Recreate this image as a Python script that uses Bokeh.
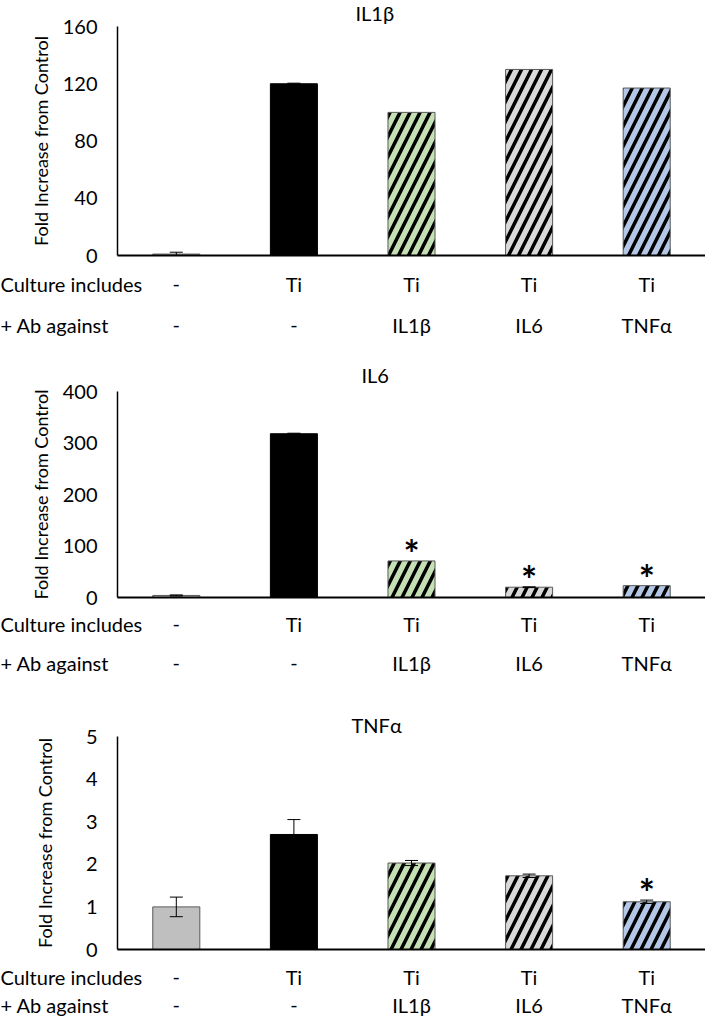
from bokeh.plotting import figure
from bokeh.layouts import column
from bokeh.models import (Range1d, FixedTicker, Whisker, TeeHead,
                          ColumnDataSource)
from bokeh.core.properties import value
from bokeh.embed import file_html
from bokeh.resources import INLINE

# ---------------- data ----------------
groups = [1, 2, 3, 4, 5]
culture_row = ["-", "Ti", "Ti", "Ti", "Ti"]
ab_row = ["-", "-", "IL1β", "IL6", "TNFα"]
row_titles = ["Culture includes", "+ Ab against"]

il1b_mean = [1.0, 120.0, 100.0, 130.0, 117.0]
il1b_err = [1.3, 0.4, 0.0, 0.0, 0.0]
il1b_sig = [False, False, False, False, False]
il1b_ticks = [0, 40, 80, 120, 160]

il6_mean = [4.0, 318.0, 71.0, 20.0, 23.0]
il6_err = [1.0, 1.0, 0.0, 0.8, 0.0]
il6_sig = [False, False, True, True, True]
il6_ticks = [0, 100, 200, 300, 400]

tnfa_mean = [1.0, 2.70, 2.03, 1.73, 1.12]
tnfa_err = [0.23, 0.35, 0.06, 0.04, 0.04]
tnfa_sig = [False, False, False, False, True]
tnfa_ticks = [0, 1, 2, 3, 4, 5]

fill_colors = ["#BFBFBF", "#000000", "#C5E0B4", "#D9D9D9", "#B4C7E7"]
line_colors = ["#595959", "#000000", "#595959", "#595959", "#595959"]
hatches = [" ", " ", "/", "/", "/"]

FONT = "Lato"
FS = "20px"
W = 705
LEFT = 117
PX_PER_UNIT = (W - LEFT) / 5.0
X0 = 0.5 - LEFT / PX_PER_UNIT


def chart(title, means, errs, sig, ticks, top, frame_h, bottom, title_valign,
          title_standoff, title_offset, ylab_standoff):
    p = figure(width=W, height=top + frame_h + bottom,
               x_range=Range1d(0.5, 5.5), y_range=Range1d(0, ticks[-1]),
               output_backend="svg", toolbar_location=None,
               min_border_left=LEFT, min_border_right=0,
               min_border_top=top, min_border_bottom=bottom)
    p.outline_line_color = None
    p.xgrid.visible = False
    p.ygrid.visible = False

    p.title.text = title
    p.title.align = "left"
    p.title.vertical_align = title_valign
    p.title.offset = title_offset
    p.title.standoff = title_standoff
    p.title.text_font = FONT
    p.title.text_font_size = FS
    p.title.text_font_style = "normal"
    p.title.text_color = "black"

    ya = p.yaxis[0]
    ya.ticker = FixedTicker(ticks=ticks)
    ya.axis_line_color = "black"
    ya.axis_line_width = 1.5
    ya.major_tick_out = 0
    ya.major_tick_in = 0
    ya.minor_tick_out = 0
    ya.minor_tick_in = 0
    ya.major_label_standoff = 20
    ya.major_label_text_font = FONT
    ya.major_label_text_font_size = FS
    ya.major_label_text_color = "black"
    ya.axis_label = "Fold Increase from Control"
    ya.axis_label_text_font = FONT
    ya.axis_label_text_font_size = "18px"
    ya.axis_label_text_font_style = "normal"
    ya.axis_label_text_color = "black"
    ya.axis_label_standoff = ylab_standoff

    xa = p.xaxis[0]
    xa.ticker = FixedTicker(ticks=[])
    xa.axis_line_color = "black"
    xa.axis_line_width = 2
    xa.major_tick_out = 0
    xa.major_tick_in = 0
    xa.minor_tick_out = 0
    xa.minor_tick_in = 0
    xa.major_label_standoff = 0

    src = ColumnDataSource(dict(x=groups, top=means, fill=fill_colors,
                                line=line_colors, hatch=hatches))
    p.vbar(x="x", top="top", width=0.4, source=src, fill_color="fill",
           line_color="line", line_width=1, hatch_pattern="hatch",
           hatch_color="black", hatch_weight=3.5, hatch_scale=20)

    ex = [g for g, e in zip(groups, errs) if e > 0]
    eu = [m + e for m, e in zip(means, errs) if e > 0]
    el = [m - e for m, e in zip(means, errs) if e > 0]
    esrc = ColumnDataSource(dict(x=ex, upper=eu, lower=el))
    p.add_layout(Whisker(source=esrc, base="x", upper="upper", lower="lower",
                         line_color="black", line_width=1, level="overlay",
                         upper_head=TeeHead(size=13, line_color="black", line_width=1),
                         lower_head=TeeHead(size=13, line_color="black", line_width=1)))

    sx = [g for g, s in zip(groups, sig) if s]
    sy = [m + e for m, e, s in zip(means, errs, sig) if s]
    if sx:
        p.text(x=sx, y=sy, text=["*"] * len(sx), text_align="center",
               text_baseline="alphabetic", text_font=value(FONT),
               text_font_style="bold", text_font_size="38px",
               text_color="black", y_offset=-8)
    return p


def strip(height, row1_y, row2_y):
    s = figure(width=W, height=height, x_range=Range1d(X0, 5.5),
               y_range=Range1d(height, 0), output_backend="svg",
               toolbar_location=None, x_axis_location=None,
               y_axis_location=None, min_border=0)
    s.frame_align = False
    s.outline_line_color = None
    s.xgrid.visible = False
    s.ygrid.visible = False
    for labels, ry in ((culture_row, row1_y), (ab_row, row2_y)):
        s.text(x=groups, y=[ry] * len(groups), text=labels,
               text_align="center", text_baseline="middle",
               text_font=value(FONT), text_font_size=FS, text_color="black")
    s.text(x=[X0, X0], y=[row1_y, row2_y], text=row_titles,
           text_align="left", text_baseline="middle",
           text_font=value(FONT), text_font_size=FS, text_color="black")
    return s


c1 = chart("IL1β", il1b_mean, il1b_err, il1b_sig, il1b_ticks,
           25, 230, 12, "top", 0, 238, 8)
s1 = strip(82, 16, 57)
c2 = chart("IL6", il6_mean, il6_err, il6_sig, il6_ticks,
           42, 206, 12, "bottom", 10, 244, 8)
s2 = strip(90, 14, 53)
c3 = chart("TNFα", tnfa_mean, tnfa_err, tnfa_sig, tnfa_ticks,
           37, 213, 11, "bottom", 0, 234, 27)
s3 = strip(58, 16, 44)

layout = column(c1, s1, c2, s2, c3, s3, spacing=0)
open("out.html", "w").write(file_html(layout, INLINE))
